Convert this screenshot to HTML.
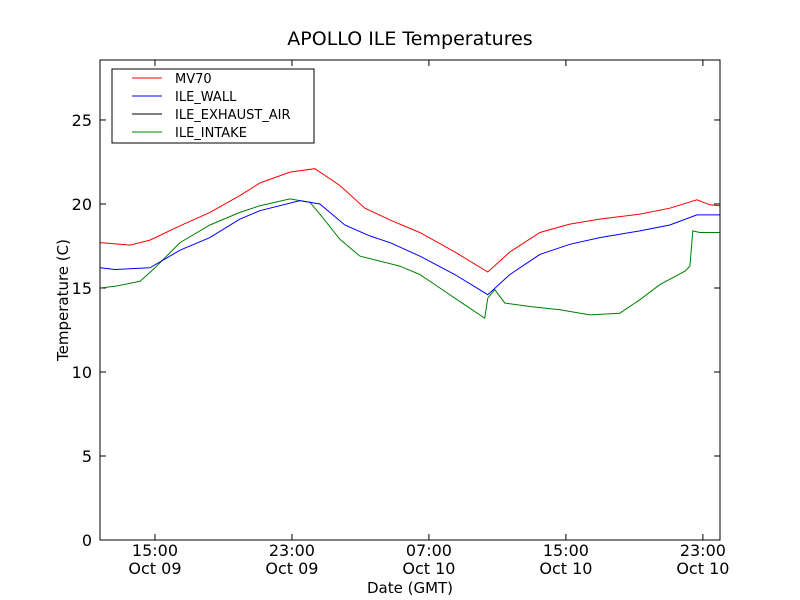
<!DOCTYPE html>
<html><head><meta charset="utf-8"><style>
body{margin:0;background:#fff;}
svg{display:block;font-family:"DejaVu Sans","Liberation Sans",sans-serif;}
</style></head><body>
<svg id="chart" width="800" height="600">
<rect width="800" height="600" fill="#fff"/>
<text x="410" y="45" font-size="19" text-anchor="middle">APOLLO ILE Temperatures</text>
<text x="410" y="593" font-size="15" text-anchor="middle">Date (GMT)</text>
<text transform="translate(68,300) rotate(-90)" font-size="15" text-anchor="middle">Temperature (C)</text>
<g id="plot"></g>
<rect x="100" y="60" width="620" height="480" fill="none" stroke="#000"/>
<g>
<rect x="112" y="69" width="202" height="74" fill="#fff" stroke="#000"/>
<g><line x1="132" x2="162" y1="78" y2="78" stroke="red"/><text x="175" y="83" font-size="13">MV70</text></g>
<g><line x1="132" x2="162" y1="96" y2="96" stroke="blue"/><text x="175" y="101" font-size="13">ILE_WALL</text></g>
<g><line x1="132" x2="162" y1="114" y2="114" stroke="#000"/><text x="175" y="119" font-size="13">ILE_EXHAUST_AIR</text></g>
<g><line x1="132" x2="162" y1="132" y2="132" stroke="green"/><text x="175" y="137" font-size="13">ILE_INTAKE</text></g>
</g>
</svg>
<script>
const yTicks=[0,5,10,15,20,25];
const xTickHours=[15,23,31,39,47];
const xTickTimes=["15:00","23:00","07:00","15:00","23:00"];
const xTickDates=["Oct 09","Oct 09","Oct 10","Oct 10","Oct 10"];
const mvHours=[11.79,13.54,14.71,16.46,18.21,19.96,21.13,22.88,24.34,25.8,27.26,28.72,30.47,32.51,34.44,35.73,37.48,39.23,40.98,43.32,45.07,46.65,47.41,47.99];
const mvTemps=[17.7,17.55,17.85,18.7,19.5,20.5,21.25,21.9,22.1,21.1,19.75,19.05,18.3,17.15,15.95,17.15,18.3,18.8,19.1,19.4,19.75,20.25,19.95,19.9];
const wallHours=[11.79,12.67,14.71,16.46,18.21,19.96,21.13,23.46,24.63,26.09,27.55,28.72,30.47,32.51,34.44,35.73,37.48,39.23,40.98,43.32,45.07,46.65,47.99];
const wallTemps=[16.2,16.1,16.2,17.25,18.0,19.1,19.6,20.2,20.0,18.75,18.1,17.7,16.9,15.8,14.6,15.8,17.0,17.6,18.0,18.4,18.75,19.35,19.35];
const intakeHours=[11.79,12.67,14.13,15.0,16.46,18.21,19.96,21.13,22.88,24.05,24.63,25.8,26.97,28.13,29.3,30.47,31.64,32.8,34.26,34.44,34.85,35.44,36.9,38.65,40.4,42.15,43.32,44.49,45.95,46.24,46.41,46.82,47.99];
const intakeTemps=[15.0,15.1,15.4,16.2,17.7,18.75,19.5,19.9,20.3,20.1,19.4,17.9,16.9,16.6,16.3,15.8,15.0,14.2,13.2,14.4,14.9,14.1,13.9,13.7,13.4,13.5,14.3,15.2,16.0,16.3,18.4,18.3,18.3];
const X0=100,X1=720,Y0=540,Y1=60,HMIN=11.79,HMAX=48.0,TMAX=28.57;
const sx=h=>X0+(h-HMIN)/(HMAX-HMIN)*(X1-X0);
const sy=t=>Y0-t/TMAX*(Y0-Y1);
const NS="http://www.w3.org/2000/svg";
const plot=document.getElementById('plot');
function mk(tag,attrs,parent){const e=document.createElementNS(NS,tag);for(const k in attrs)e.setAttribute(k,attrs[k]);(parent||plot).appendChild(e);return e;}
yTicks.forEach(t=>{
 const y=sy(t);
 const g=mk('g',{});
 
 
 mk('line',{x1:X0,x2:X0+6,y1:y,y2:y,stroke:'#000'},g);
 mk('line',{x1:X1,x2:X1-6,y1:y,y2:y,stroke:'#000'},g);
 const tx=mk('text',{x:92,y:y+6,'font-size':16,'text-anchor':'end'},g);tx.textContent=t;
});
xTickHours.forEach((h,i)=>{
 const x=sx(h);
 const g=mk('g',{});
 
 
 mk('line',{x1:x,x2:x,y1:Y0,y2:Y0-6,stroke:'#000'},g);
 mk('line',{x1:x,x2:x,y1:Y1,y2:Y1+6,stroke:'#000'},g);
 const a=mk('text',{x:x,y:556,'font-size':16,'text-anchor':'middle'},g);a.textContent=xTickTimes[i];
 const b=mk('text',{x:x,y:574,'font-size':16,'text-anchor':'middle'},g);b.textContent=xTickDates[i];
});
function series(hs,ts,color,name){
 const d=hs.map((h,i)=>(i?'L':'M')+sx(h).toFixed(1)+','+sy(ts[i]).toFixed(1)).join('');
 const p=mk('path',{d:d,fill:'none',stroke:color,'stroke-width':1});
 
 
}
series(intakeHours,intakeTemps,'green','ile-intake-line');
series(wallHours,wallTemps,'blue','ile-wall-line');
series(mvHours,mvTemps,'red','mv70-line');
</script>
</body></html>
